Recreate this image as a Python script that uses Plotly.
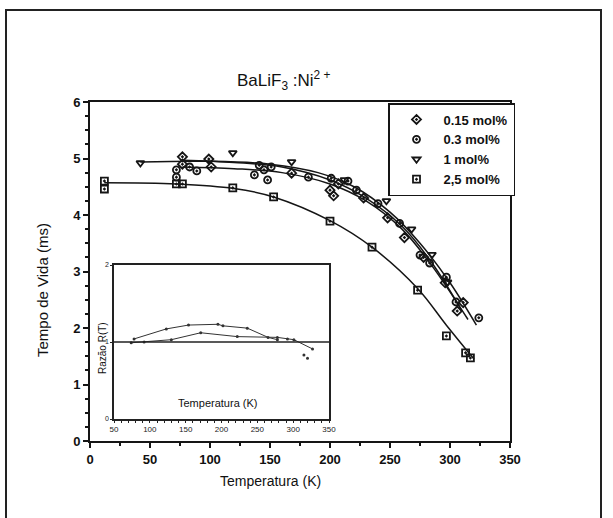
import plotly.graph_objects as go

W, H = 613, 518

# ---- main data: lifetime (ms) vs temperature (K) ----
T_015 = [77, 77, 99, 101, 168, 200, 203, 207, 228, 248, 262, 278, 296, 306, 311]
tau_015 = [5.03, 4.90, 4.99, 4.85, 4.74, 4.44, 4.34, 4.55, 4.30, 3.95, 3.60, 3.25, 2.80, 2.30, 2.45]

T_03 = [72, 72, 83, 89, 137, 141, 145, 148, 151, 182, 201, 215, 222, 240, 258, 275, 283, 297, 305, 324]
tau_03 = [4.80, 4.67, 4.85, 4.78, 4.71, 4.88, 4.80, 4.62, 4.85, 4.67, 4.65, 4.60, 4.44, 4.20, 3.85, 3.29, 3.15, 2.90, 2.46, 2.18]

T_1 = [42, 119, 168, 212, 247, 268, 285, 298]
tau_1 = [4.92, 5.10, 4.94, 4.62, 4.25, 3.75, 3.30, 2.81]

T_25 = [12, 12, 72, 77, 119, 153, 200, 235, 273, 297, 313, 317]
tau_25 = [4.60, 4.46, 4.55, 4.55, 4.48, 4.32, 3.89, 3.43, 2.67, 1.86, 1.56, 1.47]

# fitted curves
fitT_1 = [42, 100, 150, 190, 220, 250, 275, 300, 322]
fitY_1 = [4.94, 4.95, 4.90, 4.75, 4.50, 4.05, 3.50, 2.80, 2.05]
fitT_015 = [77, 120, 160, 200, 230, 260, 285, 310]
fitY_015 = [4.97, 4.93, 4.85, 4.62, 4.30, 3.80, 3.15, 2.30]
fitT_03 = [77, 120, 160, 200, 230, 260, 285, 315]
fitY_03 = [4.85, 4.82, 4.75, 4.55, 4.25, 3.75, 3.10, 2.15]
fitT_25 = [12, 72, 120, 153, 200, 235, 273, 297, 320]
fitY_25 = [4.57, 4.55, 4.47, 4.32, 3.90, 3.43, 2.70, 2.05, 1.45]

# ---- inset data: ratio R(T) ----
inA_T = [78, 123, 154, 195, 202, 236, 265, 278]
inA_R = [1.04, 1.17, 1.22, 1.23, 1.21, 1.18, 1.06, 1.03]
inB_T = [74, 92, 130, 171, 222, 278, 292, 301, 327]
inB_R = [0.99, 1.00, 1.03, 1.12, 1.07, 1.06, 1.04, 1.03, 0.91]
inC_T = [315, 320]
inC_R = [0.83, 0.79]

legend_names = ["0.15 mol%", "0.3 mol%", "1 mol%", "2,5 mol%"]

FONT = "Liberation Sans, Arial, sans-serif"
INK = "#151515"

def px_x(p):
    return p / W

def px_y(p):
    return 1 - p / H

fig = go.Figure()

# fit lines
for tx, ty in [(fitT_1, fitY_1), (fitT_015, fitY_015), (fitT_03, fitY_03), (fitT_25, fitY_25)]:
    fig.add_trace(go.Scatter(x=tx, y=ty, mode="lines", line=dict(color=INK, width=1.5, shape="spline"),
                             showlegend=False, hoverinfo="skip"))

for tx, ty, sym, name in [(T_015, tau_015, "diamond-open-dot", legend_names[0]),
                          (T_03, tau_03, "circle-open-dot", legend_names[1]),
                          (T_1, tau_1, "triangle-down-open", legend_names[2]),
                          (T_25, tau_25, "square-open-dot", legend_names[3])]:
    fig.add_trace(go.Scatter(x=tx, y=ty, mode="markers", name=name,
                             marker=dict(symbol=sym, color=INK, size=7, line=dict(color=INK, width=1.8))))

# inset
for tx, ty in [(inA_T, inA_R), (inB_T, inB_R)]:
    fig.add_trace(go.Scatter(x=tx, y=ty, mode="lines+markers", xaxis="x2", yaxis="y2",
                             line=dict(color="#333", width=1), marker=dict(size=3, color="#333"),
                             showlegend=False))
fig.add_trace(go.Scatter(x=inC_T, y=inC_R, mode="markers", xaxis="x2", yaxis="y2",
                         marker=dict(size=3, color="#333"), showlegend=False))

axis_common = dict(showgrid=False, zeroline=False, showline=True, linecolor=INK, linewidth=2,
                   mirror=True, ticks="outside", tickcolor=INK, tickwidth=1.5,
                   tickfont=dict(family=FONT, size=13, color="#111", weight="bold"))

fig.update_layout(
    width=W, height=H, margin=dict(l=0, r=0, t=0, b=0, autoexpand=False),
    paper_bgcolor="white", plot_bgcolor="white",
    font=dict(family=FONT, color="#111"),
    xaxis=dict(axis_common, domain=[px_x(90), px_x(510)], range=[0, 350], dtick=50, ticklen=5,
               minor=dict(dtick=25, ticks="outside", ticklen=3, tickcolor=INK)),
    yaxis=dict(axis_common, domain=[px_y(441), px_y(102)], range=[0, 6], dtick=1, ticklen=5,
               minor=dict(dtick=0.25, ticks="outside", ticklen=3, tickcolor=INK)),
    xaxis2=dict(showgrid=False, zeroline=False, showline=True, linecolor="#222", linewidth=1.5, mirror=True,
                domain=[px_x(114), px_x(329)], range=[50, 350], anchor="y2", dtick=50,
                ticks="outside", ticklen=2, tickcolor="#222",
                minor=dict(dtick=10, ticks="outside", ticklen=2, tickcolor="#222"),
                tickfont=dict(family=FONT, size=8, color="#222")),
    yaxis2=dict(showgrid=False, zeroline=False, showline=True, linecolor="#222", linewidth=1.5, mirror=True,
                domain=[px_y(419), px_y(265)], range=[0, 2], anchor="x2", dtick=1,
                ticks="outside", ticklen=2, tickcolor="#222",
                tickfont=dict(family=FONT, size=7, color="#222")),
    legend=dict(x=px_x(388), y=px_y(103), xanchor="left", yanchor="top", itemwidth=44,
                bordercolor=INK, borderwidth=1.5, bgcolor="white",
                font=dict(family=FONT, size=13, color="#111", weight="bold"), tracegroupgap=0),
    showlegend=True,
)

shapes = [
    # outer frame
    dict(type="rect", xref="paper", yref="paper", x0=px_x(6), x1=px_x(601), y0=px_y(530), y1=px_y(10),
         line=dict(color="#222", width=2)),
    # reference line R = 1 in inset
    dict(type="line", xref="x2 domain", yref="y2", x0=0, x1=1, y0=1, y1=1,
         line=dict(color="#222", width=1.5)),
]
fig.update_layout(shapes=shapes)

def ann(text, x, y, size, angle=0):
    return dict(text=text, x=px_x(x), y=px_y(y), xref="paper", yref="paper", xanchor="center",
                yanchor="middle", textangle=angle, showarrow=False,
                font=dict(family=FONT, size=size, color="#111"))

annotations = [
    ann("BaLiF<sub>3</sub> :Ni<sup>2 +</sup>", 283, 80, 17),
    ann("Temperatura (K)", 270, 481, 14),
    ann("Tempo de Vida (ms)", 42, 290, 15, -90),
    ann("Temperatura (K)", 218, 403, 11),
    ann("Razão R(T)", 102, 348, 10, -90),
]
fig.update_layout(annotations=annotations)

fig.write_html("out.html")
